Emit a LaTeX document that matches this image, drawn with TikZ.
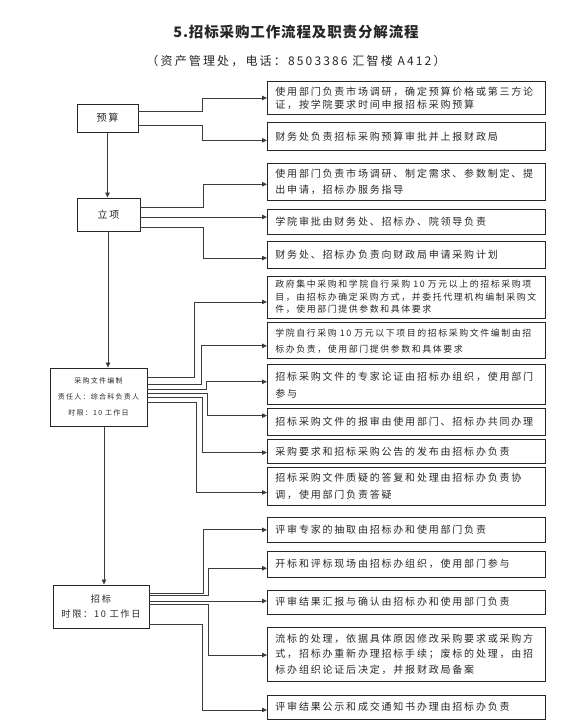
\documentclass[tikz,border=0pt]{standalone}
\usepackage{fontspec}
\setmainfont{Noto Sans CJK SC}[LetterSpace=18]
\newfontfamily\titlefont{Noto Sans CJK SC}[LetterSpace=6]
\usetikzlibrary{positioning,arrows.meta}
\definecolor{lineC}{HTML}{3C3C3C}
\definecolor{textC}{HTML}{262626}
\newcommand{\fs}[2]{\fontsize{#1}{#2}\selectfont}
\tikzset{
  stage/.style={draw=black!85, line width=0.9pt, align=center, text=textC,
                inner sep=2pt, font=\fs{10}{14}},
  duty/.style={draw=black!85, line width=0.9pt, align=left, text=textC,
               text width=262pt, inner xsep=8pt, inner ysep=2pt, font=\fs{10}{16}},
  flow/.style={draw=lineC, line width=0.8pt, -{Triangle[length=5pt,width=4.5pt]}},
}

\begin{document}
\begin{tikzpicture}[x=1pt, y=-1pt]
\useasboundingbox (0,0) rectangle (579,720);
% title
\node[font=\titlefont\bfseries\fs{14.5}{16}, text=textC] (title) at (296,32) {5.招标采购工作流程及职责分解流程};
\node[font=\fs{12}{14}, text=textC] (subtitle) at (296,61) {（资产管理处，电话：8503386 汇智楼 A412）};

% left column
\node[stage, minimum width=61pt, minimum height=28pt] (ys) at (107.5,118) {预算};
\node[stage, minimum width=63pt, minimum height=33pt] (lx) at (108.5,214.5) {立项};
\node[stage, minimum width=97pt, minimum height=58pt, font=\fs{7}{16}] (cg) at (98.5,397)
  {采购文件编制\\责任人：综合科负责人\\时限：10 工作日};
\node[stage, minimum width=96pt, minimum height=43pt, font=\fs{9.2}{15}] (zb) at (101,606.5)
  {招标\\时限：10 工作日};

% right column
\node[duty, minimum height=33pt, anchor=north west, font=\fs{10}{13}] (b1) at (267,81)
  {使用部门负责市场调研，确定预算价格或第三方论\\证，按学院要求时间申报招标采购预算};
\node[duty, minimum height=28pt, below=7pt of b1] (b2) {财务处负责招标采购预算审批并上报财政局};
\node[duty, minimum height=37pt, below=12pt of b2] (b3)
  {使用部门负责市场调研、制定需求、参数制定、提\\出申请，招标办服务指导};
\node[duty, minimum height=25pt, below=8pt of b3] (b4) {学院审批由财务处、招标办、院领导负责};
\node[duty, minimum height=27pt, below=6pt of b4] (b5) {财务处、招标办负责向财政局申请采购计划};
\node[duty, minimum height=42pt, below=7pt of b5, font=\fs{8.9}{12.3}] (b6)
  {政府集中采购和学院自行采购 10 万元以上的招标采购项\\目，由招标办确定采购方式，并委托代理机构编制采购文\\件，使用部门提供参数和具体要求};
\node[duty, minimum height=36pt, below=4pt of b6, font=\fs{8.9}{15.7}] (b7)
  {学院自行采购 10 万元以下项目的招标采购文件编制由招\\标办负责，使用部门提供参数和具体要求};
\node[duty, minimum height=40pt, below=5pt of b7, font=\fs{10}{17}] (b8)
  {招标采购文件的专家论证由招标办组织，使用部门\\参与};
\node[duty, minimum height=27pt, below=3pt of b8] (b9) {招标采购文件的报审由使用部门、招标办共同办理};
\node[duty, minimum height=24pt, below=3pt of b9] (b10) {采购要求和招标采购公告的发布由招标办负责};
\node[duty, minimum height=38pt, below=3pt of b10, font=\fs{10}{17}] (b11)
  {招标采购文件质疑的答复和处理由招标办负责协\\调，使用部门负责答疑};
\node[duty, minimum height=25pt, below=11pt of b11] (b12) {评审专家的抽取由招标办和使用部门负责};
\node[duty, minimum height=26pt, below=8pt of b12] (b13) {开标和评标现场由招标办组织，使用部门参与};
\node[duty, minimum height=24pt, below=12pt of b13] (b14) {评审结果汇报与确认由招标办和使用部门负责};
\node[duty, minimum height=54pt, below=12pt of b14, font=\fs{10}{15.5}] (b15)
  {流标的处理，依据具体原因修改采购要求或采购方\\式，招标办重新办理招标手续；废标的处理，由招\\标办组织论证后决定，并报财政局备案};
\node[duty, minimum height=24pt, below=13pt of b15] (b16) {评审结果公示和成交通知书办理由招标办负责};

% main line
\draw[flow] (ys.south) -- (ys.south |- lx.north);
\coordinate (lxd) at ([xshift=-0.5pt]lx.south);
\draw[flow] (lxd) -- (lxd |- cg.north);
\coordinate (cgd) at ([xshift=5.5pt]cg.south);
\draw[flow] (cgd) -- (cgd |- zb.north);

% 预算
\draw[flow] ([yshift=7pt]ys.east) -- ++(64,0) |- (b1.west);
\draw[flow] ([yshift=-7pt]ys.east) -- ++(64,0) |- ([yshift=-4pt]b2.west);

% 立项
\draw[flow] ([yshift=7.5pt]lx.east) -- ++(63,0) |- ([yshift=-2.5pt]b3.west);
\coordinate (l4) at ([yshift=-2.5pt]lx.east);
\draw[flow] (l4) -- (l4 -| b4.west);
\draw[flow] ([yshift=-12.5pt]lx.east) -- ++(63,0) |- ([yshift=-3.5pt]b5.west);

% 采购文件编制
\draw[flow] ([yshift=20pt]cg.east) -- ++(47,0) |- ([yshift=-5pt]b6.west);
\draw[flow] ([yshift=13pt]cg.east) -- ++(54,0) |- ([yshift=-5pt]b7.west);
\draw[flow] ([yshift=8pt]cg.east) -- ++(59,0) |- ([yshift=3pt]b8.west);
\draw[flow] ([yshift=4pt]cg.east) -- ++(60,0) |- ([yshift=6.5pt]b9.west);
\draw[flow] (cg.east) -- ++(55,0) |- ([yshift=-1pt]b10.west);
\draw[flow] ([yshift=-5pt]cg.east) -- ++(49,0) |- ([yshift=-6pt]b11.west);

% 招标
\draw[flow] ([yshift=13.5pt]zb.east) -- ++(54,0) |- (b12.west);
\draw[flow] ([yshift=11.5pt]zb.east) -- ++(59,0) |- ([yshift=-4pt]b13.west);
\coordinate (z3) at ([yshift=5.5pt]zb.east);
\draw[flow] (z3) -- (z3 -| b14.west);
\draw[flow] ([yshift=2.5pt]zb.east) -- ++(59,0) |- ([yshift=-1pt]b15.west);
\draw[flow] ([yshift=-17.5pt]zb.east) -- ++(53,0) |- ([yshift=-3pt]b16.west);
\end{tikzpicture}
\end{document}
